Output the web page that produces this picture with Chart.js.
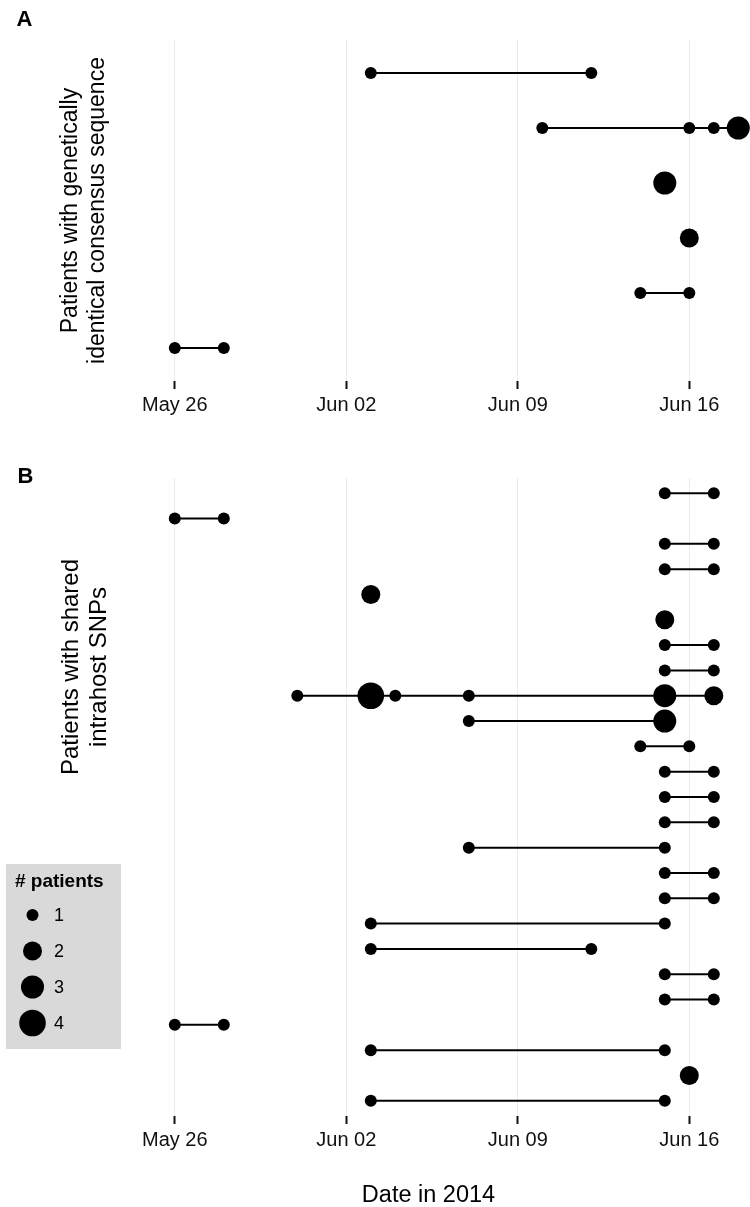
<!DOCTYPE html>
<html><head><meta charset="utf-8">
<script src="https://cdn.jsdelivr.net/npm/chart.js@4.4.1/dist/chart.umd.min.js"></script>
<style>
html,body{margin:0;padding:0;background:#fff;}
#wrap{position:relative;width:750px;height:1207px;overflow:hidden;background:#fff;}
canvas{position:absolute;left:0;}
</style></head><body>
<div id="wrap">
<canvas id="cA" width="750" height="440" style="top:0px;width:750px;height:440px"></canvas>
<canvas id="cB" width="750" height="767" style="top:440px;width:750px;height:767px"></canvas>
</div>
<script>
// ---------- DATA ----------
const originDate = '2014-05-26';
const tickDates = ['2014-05-26', '2014-06-02', '2014-06-09', '2014-06-16'];
const tickLabels = ['May 26', 'Jun 02', 'Jun 09', 'Jun 16'];

// Panel A: patients with genetically identical consensus sequence (one row per cluster)
const aDates = [
  ['2014-06-03', '2014-06-12'],
  ['2014-06-10', '2014-06-16', '2014-06-17', '2014-06-18'],
  ['2014-06-15'],
  ['2014-06-16'],
  ['2014-06-14', '2014-06-16'],
  ['2014-05-26', '2014-05-28']
];
const aPatients = [[1, 1], [1, 1, 1, 3], [3], [2], [1, 1], [1, 1]];

// Panel B: patients with shared intrahost SNPs (one row per SNP)
const bDates = [
  ['2014-06-15', '2014-06-17'],
  ['2014-05-26', '2014-05-28'],
  ['2014-06-15', '2014-06-17'],
  ['2014-06-15', '2014-06-17'],
  ['2014-06-03'],
  ['2014-06-15'],
  ['2014-06-15', '2014-06-17'],
  ['2014-06-15', '2014-06-17'],
  ['2014-05-31', '2014-06-03', '2014-06-04', '2014-06-07', '2014-06-15', '2014-06-17'],
  ['2014-06-07', '2014-06-15'],
  ['2014-06-14', '2014-06-16'],
  ['2014-06-15', '2014-06-17'],
  ['2014-06-15', '2014-06-17'],
  ['2014-06-15', '2014-06-17'],
  ['2014-06-07', '2014-06-15'],
  ['2014-06-15', '2014-06-17'],
  ['2014-06-15', '2014-06-17'],
  ['2014-06-03', '2014-06-15'],
  ['2014-06-03', '2014-06-12'],
  ['2014-06-15', '2014-06-17'],
  ['2014-06-15', '2014-06-17'],
  ['2014-05-26', '2014-05-28'],
  ['2014-06-03', '2014-06-15'],
  ['2014-06-16'],
  ['2014-06-03', '2014-06-15']
];
const bPatients = [
  [1, 1], [1, 1], [1, 1], [1, 1], [2], [2], [1, 1], [1, 1],
  [1, 4, 1, 1, 3, 2], [1, 3], [1, 1], [1, 1], [1, 1], [1, 1], [1, 1],
  [1, 1], [1, 1], [1, 1], [1, 1], [1, 1], [1, 1], [1, 1], [1, 1], [2], [1, 1]
];

const legendSizes = [1, 2, 3, 4];
const legendTitle = '# patients';
const titleA = ['Patients with genetically', 'identical consensus sequence'];
const titleB = ['Patients with shared', 'intrahost SNPs'];
const xTitle = 'Date in 2014';
const panelLabels = ['A', 'B'];

// ---------- STYLE ----------
const FONT = "'Liberation Sans', Arial, Helvetica, sans-serif";
const sizeRadius = {1: 6, 2: 9.5, 3: 11.5, 4: 13.3};
const plotLeft = 147, plotRight = 750;
const pxPerDay = 24.5, originPx = 174.8;

Chart.defaults.font.family = FONT;

function day(s) { return (Date.parse(s) - Date.parse(originDate)) / 86400000; }
const tickDays = tickDates.map(day);
const xMin = -(originPx - plotLeft) / pxPerDay;
const xMax = xMin + (plotRight - plotLeft) / pxPerDay;

function makeDatasets(dates, patients) {
  return dates.map((row, i) => ({
    data: row.map((d, j) => ({x: day(d), y: i + 1, n: patients[i][j]})),
    showLine: true,
    borderColor: '#000',
    borderWidth: 2,
    pointBackgroundColor: '#000',
    pointBorderColor: '#000',
    pointBorderWidth: 0,
    pointRadius: ctx => sizeRadius[ctx.raw ? ctx.raw.n : 1],
    pointHoverRadius: ctx => sizeRadius[ctx.raw ? ctx.raw.n : 1],
    clip: false
  }));
}

function xScale(canvasH, plotBottom) {
  return {
    type: 'linear',
    min: xMin, max: xMax,
    afterBuildTicks: s => { s.ticks = tickDays.map(v => ({value: v})); },
    afterFit: s => { s.height = canvasH - plotBottom; s.paddingLeft = 0; s.paddingRight = 0; },
    ticks: {
      autoSkip: false, maxRotation: 0, minRotation: 0,
      callback: v => tickLabels[tickDays.indexOf(v)],
      font: {size: 20, family: FONT},
      color: '#111',
      padding: 4
    },
    grid: {
      color: '#ebebeb', lineWidth: 1,
      drawTicks: true, tickLength: 8, tickColor: '#111', tickWidth: 2
    },
    border: {display: false}
  };
}

function rotText(ctx, lines, cy, baselines, size) {
  ctx.save();
  ctx.fillStyle = '#000';
  ctx.font = size + 'px ' + FONT;
  ctx.textAlign = 'center';
  ctx.textBaseline = 'alphabetic';
  lines.forEach((t, k) => {
    ctx.save();
    ctx.translate(baselines[k], cy);
    ctx.rotate(-Math.PI / 2);
    ctx.fillText(t, 0, 0);
    ctx.restore();
  });
  ctx.restore();
}

// ---------- PANEL A ----------
const HA = 440, bottomA = 381;
new Chart(document.getElementById('cA'), {
  type: 'scatter',
  data: {datasets: makeDatasets(aDates, aPatients)},
  options: {
    responsive: false, animation: false, devicePixelRatio: 1,
    layout: {autoPadding: false, padding: {left: plotLeft, right: 0, top: 40, bottom: 0}},
    plugins: {legend: {display: false}, tooltip: {enabled: false}},
    scales: {
      x: xScale(HA, bottomA),
      y: {type: 'linear', reverse: true, min: 0.4, max: aDates.length + 0.6, display: false}
    }
  },
  plugins: [{
    id: 'textA',
    afterDraw(chart) {
      const ctx = chart.ctx;
      ctx.save();
      ctx.fillStyle = '#000';
      ctx.font = 'bold 22px ' + FONT;
      ctx.textBaseline = 'alphabetic';
      ctx.fillText(panelLabels[0], 16.5, 26);
      ctx.restore();
      const ca = chart.chartArea;
      rotText(ctx, titleA, (ca.top + ca.bottom) / 2, [77, 104], 23);
    }
  }]
});

// ---------- PANEL B ----------
const HB = 767, bottomB = 676;
new Chart(document.getElementById('cB'), {
  type: 'scatter',
  data: {datasets: makeDatasets(bDates, bPatients)},
  options: {
    responsive: false, animation: false, devicePixelRatio: 1,
    layout: {autoPadding: false, padding: {left: plotLeft, right: 0, top: 38, bottom: 0}},
    plugins: {legend: {display: false}, tooltip: {enabled: false}},
    scales: {
      x: xScale(HB, bottomB),
      y: {type: 'linear', reverse: true, min: 0.4, max: bDates.length + 0.6, display: false}
    }
  },
  plugins: [{
    id: 'textB',
    afterDraw(chart) {
      const ctx = chart.ctx;
      ctx.save();
      ctx.fillStyle = '#000';
      ctx.font = 'bold 22px ' + FONT;
      ctx.textBaseline = 'alphabetic';
      ctx.fillText(panelLabels[1], 17.5, 43);
      // x title
      ctx.font = '23.5px ' + FONT;
      ctx.textAlign = 'center';
      ctx.fillText(xTitle, 428.5, 761.5);
      ctx.restore();
      rotText(ctx, titleB, 227, [78, 106], 24);
      // legend
      ctx.save();
      ctx.fillStyle = '#d9d9d9';
      ctx.fillRect(6, 424, 115, 185);
      ctx.fillStyle = '#000';
      ctx.font = 'bold 19px ' + FONT;
      ctx.textAlign = 'left';
      ctx.textBaseline = 'alphabetic';
      ctx.fillText(legendTitle, 15, 447);
      ctx.font = '18px ' + FONT;
      ctx.textBaseline = 'middle';
      legendSizes.forEach((s, k) => {
        const cy = 475 + k * 36;
        ctx.beginPath();
        ctx.arc(32.5, cy, sizeRadius[s], 0, Math.PI * 2);
        ctx.fill();
        ctx.fillText(String(s), 54, cy + 1);
      });
      ctx.restore();
    }
  }]
});
</script>
</body></html>
